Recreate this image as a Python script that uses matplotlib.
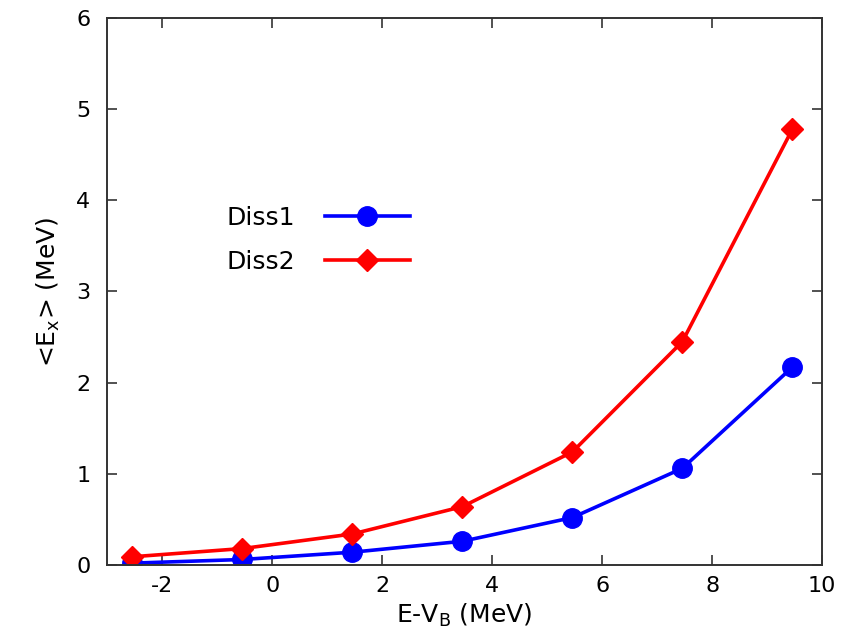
import matplotlib
matplotlib.use("Agg")
import matplotlib.pyplot as plt

# data
energy = [-2.54, -0.54, 1.46, 3.46, 5.46, 7.46, 9.46]
diss1 = [0.02, 0.06, 0.14, 0.26, 0.52, 1.06, 2.17]
diss2 = [0.09, 0.18, 0.34, 0.64, 1.24, 2.45, 4.78]
xticks = [-2, 0, 2, 4, 6, 8, 10]
yticks = [0, 1, 2, 3, 4, 5, 6]

plt.rcParams['font.family'] = ['DejaVu Sans']
plt.rcParams['mathtext.fontset'] = 'dejavusans'
plt.rcParams['axes.unicode_minus'] = False

fig = plt.figure(figsize=(8.44, 6.42), dpi=100)
ax = fig.add_axes([0.127, 0.12, 0.847, 0.852])

ax.plot(energy, diss1, color='#0000ff', lw=2.6, marker='o', ms=14,
        label='Diss1')
ax.plot(energy, diss2, color='#ff0000', lw=2.6, marker='D', ms=11,
        label='Diss2')

ax.set_xlim(-3, 10)
ax.set_ylim(0, 6)
ax.set_xticks(xticks)
ax.set_yticks(yticks)
ax.tick_params(direction='in', length=7, width=1.2, labelsize=16,
               top=True, right=True, color='#333333')
ax.tick_params(axis='x', pad=8)
ax.tick_params(axis='y', pad=12)
for s in ax.spines.values():
    s.set_linewidth(1.4)
    s.set_color('#333333')

ax.set_xlabel(r'E-V$_\mathrm{B}$ (MeV)', fontsize=18, labelpad=4)
ax.set_ylabel(r'<E$_\mathrm{x}$> (MeV)', fontsize=18, labelpad=10)

leg = ax.legend(loc='center right', bbox_to_anchor=(0.455, 0.595),
                markerfirst=False, frameon=False, fontsize=18,
                handlelength=3.4, handletextpad=1.2, labelspacing=0.8)

fig.savefig('out.png', dpi=100)
